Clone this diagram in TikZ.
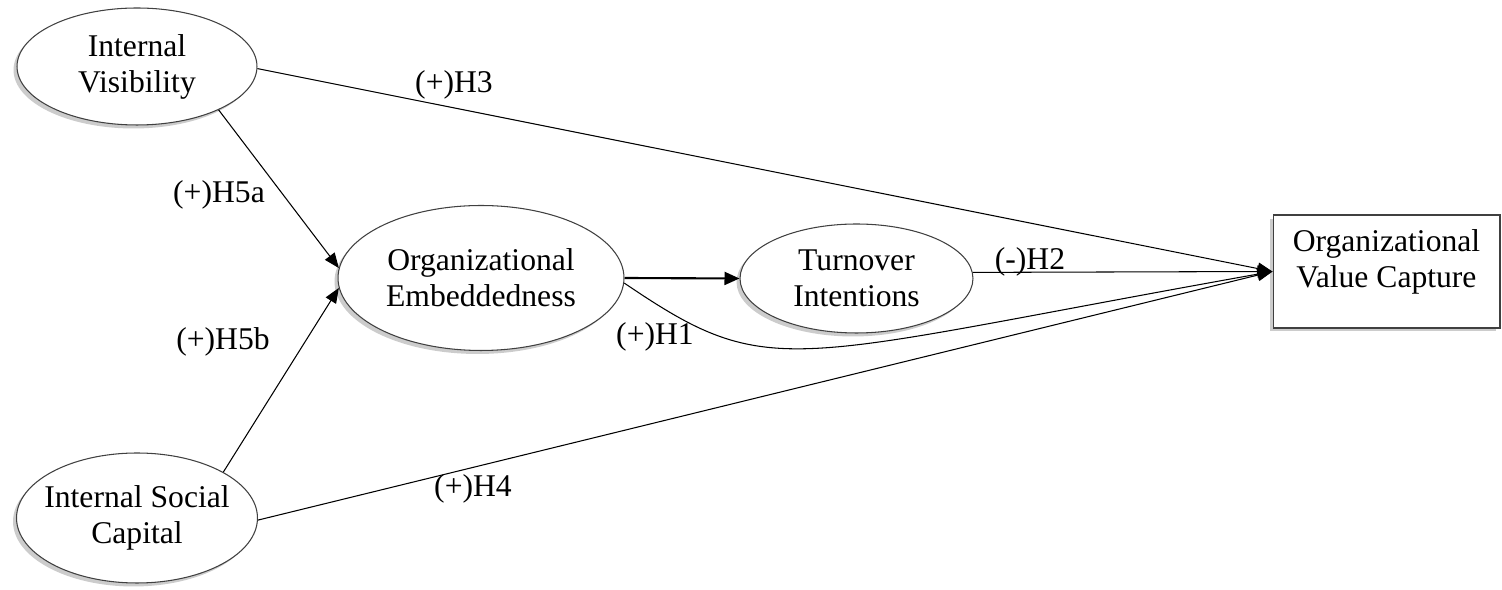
\documentclass[tikz,border=0pt]{standalone}
\usepackage{fontspec}
\setmainfont{Liberation Serif}
\usetikzlibrary{shapes.geometric,shadows,arrows.meta}
\begin{document}
\begin{tikzpicture}[x=0.02cm,y=-0.02cm,
  every node/.style={font=\fontsize{18}{20.5}\selectfont},
  construct/.style={ellipse,draw=black!75,line width=0.6pt,fill=white,inner xsep=-0.3cm,inner ysep=0pt,align=center,
    drop shadow={shadow xshift=-0.07cm,shadow yshift=-0.07cm,fill=black!25,opacity=0.8}},
  outcome/.style={rectangle,draw=black!75,line width=0.6pt,fill=white,inner sep=0pt,
    drop shadow={shadow xshift=-0.07cm,shadow yshift=-0.07cm,fill=black!25,opacity=0.8}},
  txt/.style={align=center,inner sep=0pt},
  lbl/.style={anchor=base,inner sep=0pt},
  path/.style={draw,line width=0.6pt,-{Triangle[length=0.3cm,width=0.24cm]}},
  thickpath/.style={draw,line width=1.2pt,-{Triangle[length=0.3cm,width=0.26cm]}}]
\useasboundingbox (0,0) rectangle (1502,590);

\node[construct,minimum width=4.8cm,minimum height=2.34cm] (iv) at (137,66.5) {Internal\\Visibility};
\node[construct,minimum width=4.82cm,minimum height=2.6cm] (isc) at (137,518) {Internal Social\\Capital};
\node[construct,minimum width=5.72cm,minimum height=2.9cm] (oe) at (481,278) {Organizational\\Embeddedness};
\node[construct,minimum width=4.66cm,minimum height=2.18cm] (ti) at (856.5,278.5) {Turnover\\Intentions};
\node[outcome,minimum width=4.54cm,minimum height=2.26cm] (ovc) at (1386.5,271.5) {};
\node[txt] (ovct) at (1386.5,262) {Organizational\\Value Capture};

\path[path] (iv.-28) -- (oe.176);
\path[path] (isc.28) -- (oe.184);
\path[path] (iv.-1) -- (ovc.west);
\path[path] (isc.-1) -- (ovc.west);
\path[thickpath] (oe.east) -- (ti.west);
\path[path] (ti.3) -- (ovc.west);
\path[path] (oe.-2) .. controls (773,384) and (781,359) .. (ovc.west);

\node[lbl] (h3) at (454,93) {(+)H3};
\node[lbl] (h5a) at (219,203) {(+)H5a};
\node[lbl] (h5b) at (223,350) {(+)H5b};
\node[lbl] (h1) at (655,345) {(+)H1};
\node[lbl] (h2) at (1030,270) {(-)H2};
\node[lbl] (h4) at (473,497) {(+)H4};
\end{tikzpicture}
\end{document}
